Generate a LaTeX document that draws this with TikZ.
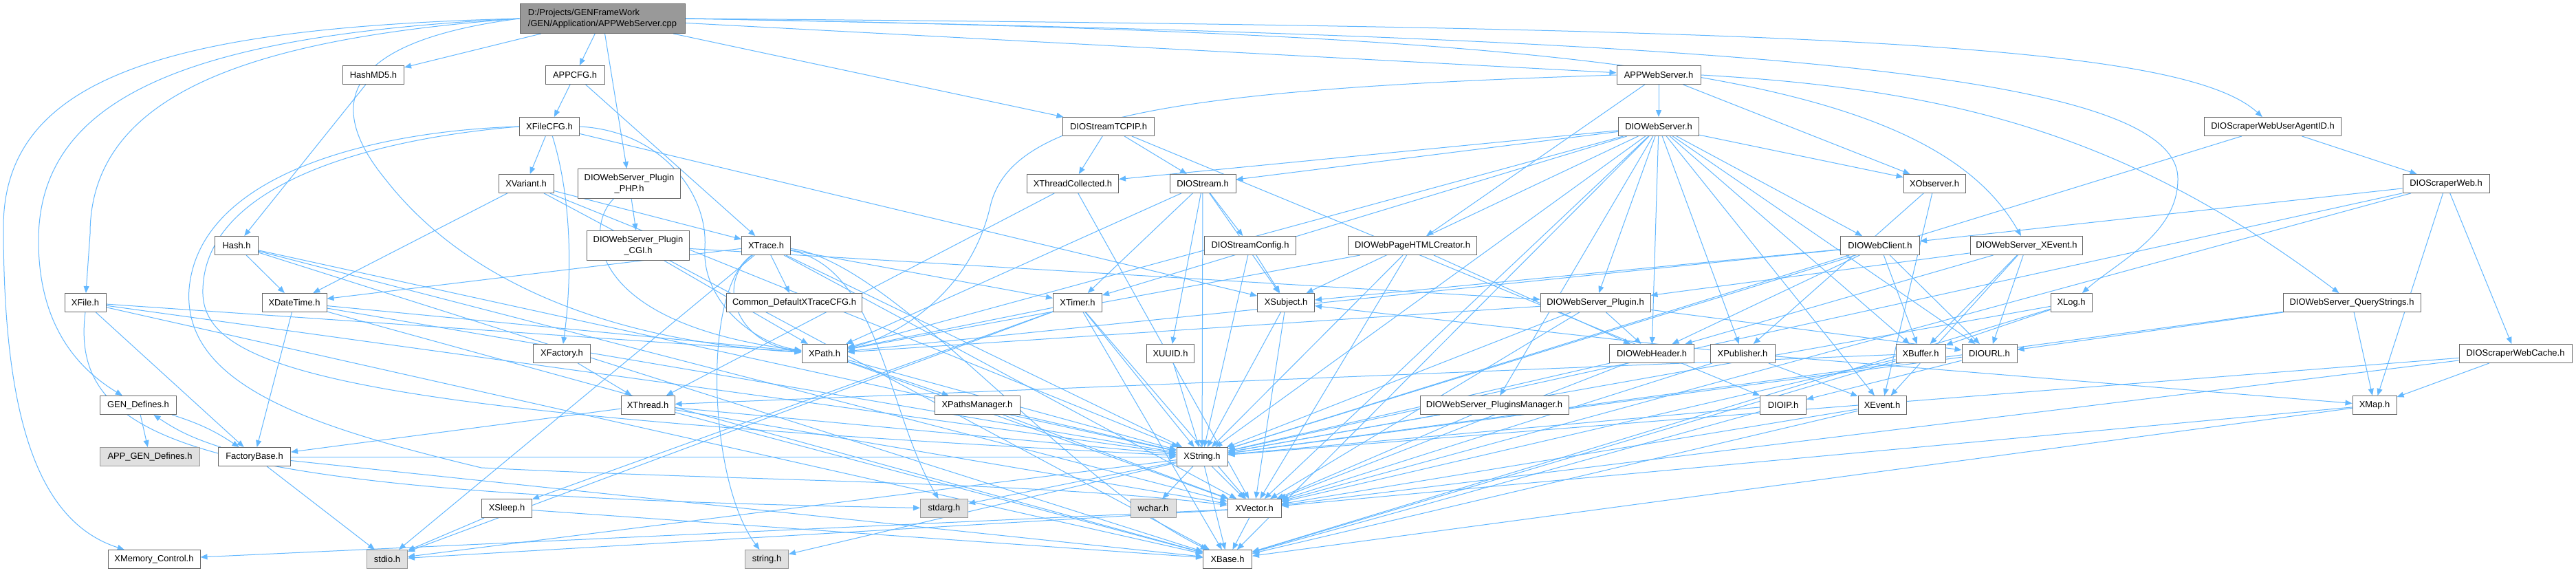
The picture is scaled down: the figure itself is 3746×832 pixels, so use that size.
\documentclass[tikz,border=0pt]{standalone}
\usepackage{fontspec}
\setmainfont{Liberation Sans}
\usetikzlibrary{arrows.meta}
\definecolor{edgeblue}{HTML}{63B8FF}
\definecolor{nodeborder}{HTML}{666666}
\definecolor{grayfill}{HTML}{E0E0E0}
\definecolor{grayborder}{HTML}{999999}
\definecolor{rootfill}{HTML}{999999}
\newcommand\nfont{\fontsize{9.7}{11.5}\selectfont}
\pgfdeclarelayer{bg}
\pgfsetlayers{bg,main}
\begin{document}
\begin{tikzpicture}[x=0.75pt,y=-0.75pt,
  nb/.style={draw=nodeborder, fill=white, line width=0.75pt, inner sep=0pt, minimum height=20.25pt, font=\nfont},
  gb/.style={nb, draw=grayborder, fill=grayfill},
  rb/.style={nb, fill=rootfill},
  wd/.style={minimum width=#1*0.75pt},
  tall/.style={minimum height=32.25pt, align=center},
  edg/.style={draw=edgeblue, line width=0.75pt, -{Triangle[length=7.5pt,width=6pt]}}]
\useasboundingbox (0,0) rectangle (3746,832);
% row 0
\node[rb, wd=240, minimum height=32.25pt, align=left] (root) at (876,27) {D:/Projects/GENFrameWork\\/GEN/Application/APPWebServer.cpp};
% row 1
\node[nb, wd=89] (hashmd5) at (543,109) {HashMD5.h};
\node[nb, wd=86] (appcfg) at (836,109) {APPCFG.h};
\node[nb, wd=122] (appws) at (2412,109) {APPWebServer.h};
% row 2
\node[nb, wd=87] (xfilecfg) at (799,184) {XFileCFG.h};
\node[nb, wd=133] (tcpip) at (1612,184) {DIOStreamTCPIP.h};
\node[nb, wd=117] (dioweb) at (2412,184) {DIOWebServer.h};
\node[nb, wd=199] (uaid) at (3305,184) {DIOScraperWebUserAgentID.h};
% row 3
\node[nb, wd=80] (xvariant) at (765,267) {XVariant.h};
\node[nb, wd=149, tall] (php) at (915,267) {DIOWebServer\_Plugin\\\_PHP.h};
\node[nb, wd=133] (xthrcol) at (1560,267) {XThreadCollected.h};
\node[nb, wd=96] (diostream) at (1749,267) {DIOStream.h};
\node[nb, wd=90] (xobserver) at (2813,267) {XObserver.h};
\node[nb, wd=126] (scraper) at (3557,267) {DIOScraperWeb.h};
% row 4
\node[nb, wd=63] (hash) at (344,357) {Hash.h};
\node[nb, wd=149, tall] (cgi) at (928,357) {DIOWebServer\_Plugin\\\_CGI.h};
\node[nb, wd=71] (xtrace) at (1114,357) {XTrace.h};
\node[nb, wd=133] (streamcfg) at (1818,357) {DIOStreamConfig.h};
\node[nb, wd=187] (htmlcr) at (2054,357) {DIOWebPageHTMLCreator.h};
\node[nb, wd=115] (webclient) at (2734,357) {DIOWebClient.h};
\node[nb, wd=163] (wsxevent) at (2947,357) {DIOWebServer\_XEvent.h};
% row 5
\node[nb, wd=60] (xfile) at (124,440) {XFile.h};
\node[nb, wd=94] (xdatetime) at (428,440) {XDateTime.h};
\node[nb, wd=197] (commontrace) at (1155,440) {Common\_DefaultXTraceCFG.h};
\node[nb, wd=71] (xtimer) at (1567,440) {XTimer.h};
\node[nb, wd=83] (xsubject) at (1870,440) {XSubject.h};
\node[nb, wd=160] (plugin) at (2320,440) {DIOWebServer\_Plugin.h};
\node[nb, wd=60] (xlog) at (3012,440) {XLog.h};
\node[nb, wd=200] (qstrings) at (3420,440) {DIOWebServer\_QueryStrings.h};
% row 6
\node[nb, wd=83] (xfactory) at (817,514) {XFactory.h};
\node[nb, wd=66] (xpath) at (1199,514) {XPath.h};
\node[nb, wd=69] (xuuid) at (1702,514) {XUUID.h};
\node[nb, wd=123] (webheader) at (2402,514) {DIOWebHeader.h};
\node[nb, wd=94] (xpublisher) at (2534,514) {XPublisher.h};
\node[nb, wd=72] (xbuffer) at (2793,514) {XBuffer.h};
\node[nb, wd=80] (diourl) at (2893,514) {DIOURL.h};
\node[nb, wd=164] (scrcache) at (3658,514) {DIOScraperWebCache.h};
% row 7
\node[nb, wd=111] (gendef) at (201,589) {GEN\_Defines.h};
\node[nb, wd=78] (xthread) at (942,589) {XThread.h};
\node[nb, wd=124] (xpathsmgr) at (1421,589) {XPathsManager.h};
\node[nb, wd=216] (pluginsmgr) at (2173,589) {DIOWebServer\_PluginsManager.h};
\node[nb, wd=67] (dioip) at (2593,589) {DIOIP.h};
\node[nb, wd=70] (xevent) at (2737,589) {XEvent.h};
\node[nb, wd=64] (xmap) at (3453,589) {XMap.h};
% row 8
\node[gb, wd=145] (appgen) at (218,664) {APP\_GEN\_Defines.h};
\node[nb, wd=105] (factorybase) at (370,664) {FactoryBase.h};
\node[nb, wd=74] (xstring) at (1748,664) {XString.h};
% row 9
\node[nb, wd=73] (xsleep) at (737,739) {XSleep.h};
\node[gb, wd=69] (stdarg) at (1373,739) {stdarg.h};
\node[gb, wd=66] (wchar) at (1677,739) {wchar.h};
\node[nb, wd=78] (xvector) at (1824,739) {XVector.h};
% row 10
\node[nb, wd=134] (xmemctl) at (224,813) {XMemory\_Control.h};
\node[gb, wd=59] (stdio) at (563,813) {stdio.h};
\node[gb, wd=63] (stringh) at (1115,813) {string.h};
\node[nb, wd=71] (xbase) at (1785,813) {XBase.h};

\begin{pgfonlayer}{bg}
\fill[white] (0,0) rectangle (3746,832);
\foreach \s/\t in {root/hashmd5, root/appcfg, root/php, root/tcpip, root/appws,
  appcfg/xfilecfg, appcfg/xtrace, hashmd5/hash,
  xfilecfg/xvariant, xfilecfg/xsubject,
  xvariant/xdatetime, xvariant/xtrace, xvariant/xstring, xvariant/xbase,
  php/cgi, cgi/plugin, cgi/xpath,
  hash/xdatetime, hash/xstring, hash/xvector, hash/xbase,
  xfile/factorybase, xfile/xpath, xfile/xstring, xfile/xbase,
  xdatetime/factorybase, xdatetime/xpath, xdatetime/xstring, xdatetime/xbase,
  gendef/appgen, factorybase/stdio, factorybase/xstring, factorybase/xbase,
  xfactory/xthread, xthread/factorybase, xthread/xstring, xthread/xvector, xthread/xbase,
  xthrcol/xthread, xthrcol/xvector,
  tcpip/xthrcol, tcpip/diostream, tcpip/dioip,
  diostream/xtimer, diostream/xpath, diostream/xuuid, diostream/xstring, diostream/streamcfg, diostream/xsubject,
  streamcfg/xsubject, streamcfg/xstring,
  xtrace/xdatetime, xtrace/commontrace, xtrace/xtimer, xtrace/xstring, xtrace/xvector, xtrace/stdio,
  xtimer/xpath, xtimer/xsleep, xtimer/xstring, xtimer/xvector, xtimer/xbase, xtimer/stdio,
  xsleep/stdio, xsleep/xbase, xsubject/xstring, xsubject/xvector,
  xpath/xpathsmgr, xpath/xstring, xpath/xvector, xuuid/xstring, xpathsmgr/xstring, xpathsmgr/xvector,
  xstring/xvector, xstring/xbase, xstring/stdarg, xstring/wchar, xstring/stringh, xstring/stdio,
  xvector/xbase, xvector/xmemctl, xvector/stdio,
  appws/dioweb, appws/htmlcr, appws/xobserver,
  dioweb/diostream, dioweb/xthrcol, dioweb/xobserver, dioweb/webclient, dioweb/plugin, dioweb/webheader,
  dioweb/xpublisher, dioweb/xsubject, dioweb/xpath, dioweb/xtimer, dioweb/pluginsmgr, dioweb/xbuffer,
  dioweb/diourl, dioweb/xevent, dioweb/xstring, dioweb/xvector, dioweb/xbase,
  htmlcr/xpath, htmlcr/xstring, htmlcr/xvector, htmlcr/webheader,
  webclient/xsubject, webclient/xpath, webclient/webheader, webclient/xbuffer, webclient/diourl, webclient/xstring,
  wsxevent/xevent, wsxevent/webheader, wsxevent/plugin, wsxevent/xbuffer, wsxevent/diourl,
  xlog/xbuffer, xlog/xstring, xlog/xbase,
  qstrings/diourl, qstrings/xmap, qstrings/xstring,
  uaid/scraper, uaid/xstring,
  scraper/webclient, scraper/scrcache, scraper/xmap, scraper/xstring, scraper/xvector,
  scrcache/xmap, scrcache/xstring, scrcache/xvector,
  xmap/xvector, xmap/xbase, xobserver/xpublisher, xobserver/xevent,
  plugin/xpath, plugin/xstring, plugin/xvector, plugin/webheader, plugin/diourl,
  webheader/xstring, webheader/xvector,
  xpublisher/xsubject, xpublisher/xevent, xpublisher/xmap, xpublisher/xvector,
  xbuffer/xthread, xbuffer/xbase, xbuffer/xvector,
  diourl/dioip, diourl/xstring, dioip/xstring, dioip/xbase,
  xevent/xvector, xevent/xbase, pluginsmgr/xstring, pluginsmgr/xvector}
  {\draw[edg] (\s) -- (\t);}
% paired edges between GEN_Defines and FactoryBase
\draw[edg] (gendef) to[bend left=8] (factorybase);
\draw[edg] (factorybase) to[bend left=8] (gendef);
% long curved edges
\draw[edg] (root.west) .. controls (250,40) and (5,110) .. (5,330) .. controls (5,620) and (60,760) .. (xmemctl);
\draw[edg] (root.west) .. controls (300,50) and (56,130) .. (56,350) .. controls (56,480) and (120,540) .. (gendef);
\draw[edg] (root.west) .. controls (380,55) and (131,130) .. (131,340) -- (xfile);
\draw[edg] (root.west) .. controls (500,60) and (470,150) .. (560,260) .. controls (700,440) and (950,500) .. (xpath);
\draw[edg] (root.east) .. controls (2600,40) and (3170,60) .. (uaid);
\draw[edg] (root.east) .. controls (2500,55) and (3167,100) .. (3167,260) .. controls (3167,340) and (3080,380) .. (xlog);
\draw[edg] (root.east) .. controls (2300,50) and (2800,100) .. (wsxevent);
\draw[edg] (appws.west) .. controls (1700,130) and (1470,170) .. (1440,300) .. controls (1410,430) and (1300,490) .. (xpath);
\draw[edg] (appws.east) .. controls (2850,130) and (3100,200) .. (qstrings);
\draw[edg] (xfile.south) .. controls (100,650) and (300,720) .. (stdarg);
% curves routed round other boxes
\draw[edg] (xfilecfg.west) .. controls (550,190) and (290,250) .. (275,420) .. controls (265,560) and (450,620) .. (700,680) .. controls (1100,700) and (1500,700) .. (xvector);
\draw[edg] (xfilecfg.west) .. controls (560,200) and (300,260) .. (295,420) .. controls (290,540) and (500,600) .. (xstring);
\draw[edg] (xfilecfg.east) .. controls (960,190) and (1030,280) .. (1025,360) .. controls (1020,440) and (1100,500) .. (xpath);
\draw[edg] (xfilecfg) .. controls (835,300) and (830,420) .. (xfactory);
\draw[edg] (php) .. controls (850,330) and (850,470) .. (xpath);
\draw[edg] (xtrace) .. controls (1040,410) and (1070,500) .. (xpath);
\draw[edg] (xtrace) .. controls (1020,420) and (1030,700) .. (stringh);
\draw[edg] (xtrace) .. controls (1280,390) and (1290,600) .. (stdarg);
\draw[edg] (xtrace) .. controls (1300,380) and (1550,700) .. (xbase);
\end{pgfonlayer}
\end{tikzpicture}
\end{document}
